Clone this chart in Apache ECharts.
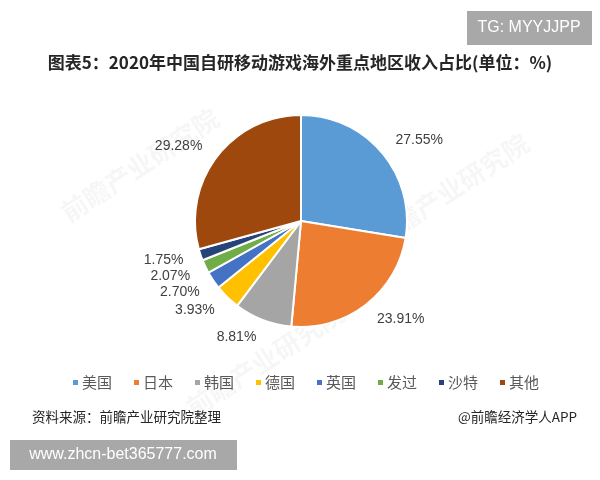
<!DOCTYPE html>
<html>
<head>
<meta charset="utf-8">
<script src="https://cdn.jsdelivr.net/npm/echarts@6/dist/echarts.min.js"></script>
<style>
  html, body { margin: 0; padding: 0; background: #fff; }
  #main { width: 600px; height: 480px; }
</style>
</head>
<body>
<div id="main"></div>
<script>
// data
var regions = ['美国', '日本', '韩国', '德国', '英国', '发过', '沙特', '其他'];
var shares = [27.55, 23.91, 8.81, 3.93, 2.70, 2.07, 1.75, 29.28];
var colors = ['#5B9BD5', '#ED7D31', '#A5A5A5', '#FFC000', '#4472C4', '#70AD47', '#264478', '#9E480E'];

var pieData = [];
for (var i = 0; i < regions.length; i++) {
  pieData.push({ name: regions[i], value: shares[i] });
}

// faint diagonal watermark
function watermark(x, y) {
  return {
    type: 'text',
    x: x, y: y,
    rotation: 0.58,
    z: -10,
    style: {
      text: '前瞻产业研究院',
      fill: 'rgba(0,0,0,0.035)',
      font: 'bold 26px "Noto Sans CJK SC"',
      align: 'center',
      verticalAlign: 'middle'
    }
  };
}

var myChart = echarts.init(document.getElementById('main'));
var option = {
  backgroundColor: '#fff',
  color: colors,
  title: {
    text: '图表5：2020年中国自研移动游戏海外重点地区收入占比(单位：%)',
    left: 'center',
    top: 49,
    textStyle: {
      fontFamily: 'Noto Sans CJK SC',
      fontSize: 17,
      fontWeight: 'bold',
      color: '#262626'
    }
  },
  legend: {
    data: regions,
    left: 66,
    top: 370,
    icon: 'rect',
    itemWidth: 7,
    itemHeight: 7,
    itemGap: 20,
    textStyle: {
      fontFamily: 'Noto Sans CJK SC',
      fontSize: 15,
      color: '#595959',
      padding: [0, 0, 0, -2]
    }
  },
  series: [
    {
      type: 'pie',
      center: [301, 221],
      radius: 106,
      startAngle: 90,
      clockwise: true,
      avoidLabelOverlap: true,
      itemStyle: {
        borderColor: '#fff',
        borderWidth: 2
      },
      label: {
        show: true,
        position: 'outside',
        distanceToLabelLine: 0,
        formatter: function (p) { return p.value.toFixed(2) + '%'; },
        fontFamily: 'Liberation Sans',
        fontSize: 14,
        color: '#404040'
      },
      labelLine: {
        show: false,
        length: 18,
        length2: 0
      },
      data: pieData
    }
  ],
  graphic: [
    watermark(140, 165),
    watermark(450, 190),
    watermark(265, 360),
    {
      type: 'rect',
      shape: { x: 467, y: 11, width: 125, height: 34 },
      style: { fill: '#a8a8a8' }
    },
    {
      type: 'text',
      x: 529, y: 28,
      style: {
        text: 'TG: MYYJJPP',
        fill: '#fff',
        font: '16px "Liberation Sans"',
        align: 'center',
        verticalAlign: 'middle'
      }
    },
    {
      type: 'text',
      x: 32, y: 417,
      style: {
        text: '资料来源：前瞻产业研究院整理',
        fill: '#262626',
        font: '13.5px "Noto Sans CJK SC"',
        verticalAlign: 'middle'
      }
    },
    {
      type: 'text',
      x: 577, y: 417,
      style: {
        text: '@前瞻经济学人APP',
        fill: '#262626',
        font: '13.5px "Noto Sans CJK SC"',
        align: 'right',
        verticalAlign: 'middle'
      }
    },
    {
      type: 'rect',
      shape: { x: 10, y: 440, width: 227, height: 30 },
      style: { fill: '#a8a8a8' }
    },
    {
      type: 'text',
      x: 123, y: 455,
      style: {
        text: 'www.zhcn-bet365777.com',
        fill: '#fff',
        font: '16px "Liberation Sans"',
        align: 'center',
        verticalAlign: 'middle'
      }
    }
  ]
};
myChart.setOption(option);
</script>
</body>
</html>
